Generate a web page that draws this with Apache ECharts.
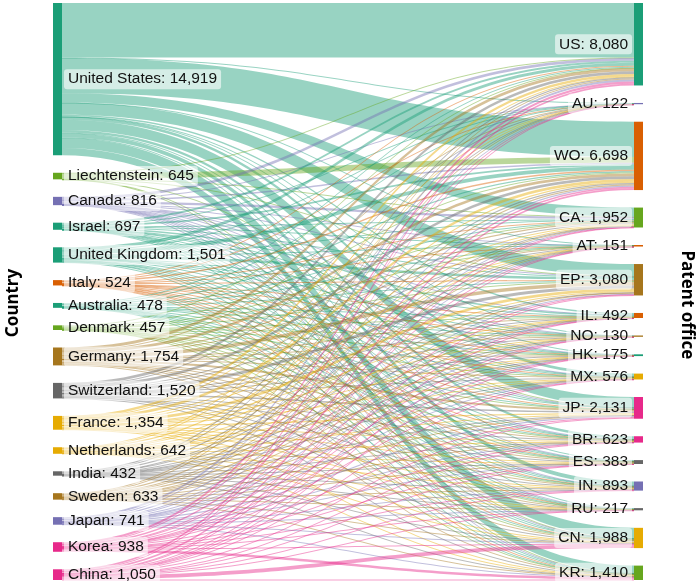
<!DOCTYPE html>
<html><head><meta charset="utf-8">
<script src="https://cdn.jsdelivr.net/npm/echarts/dist/echarts.min.js"></script>
<style>html,body{margin:0;padding:0;background:#fff}#c{width:700px;height:586px}</style>
</head><body><div id="c"></div>
<script>
// Source countries (left column), in display order
const countries = ['United States','Liechtenstein','Canada','Israel','United Kingdom','Italy','Australia','Denmark','Germany','Switzerland','France','Netherlands','India','Sweden','Japan','Korea','China'];
const countryTotals = [14919,645,816,697,1501,524,478,457,1754,1520,1354,642,432,633,741,938,1050];

// Patent offices (right column), in display order
const offices = ['US','AU','WO','CA','AT','EP','IL','NO','HK','MX','JP','BR','ES','IN','RU','CN','KR'];
const officeTotals = [8080,122,6698,1952,151,3080,492,130,175,576,2131,623,383,893,217,1988,1410];

// Estimated flows: one array per country, values per office (same order as offices)
const fromUnitedStates  = [5350,45,3450,900,25,1174,150,25,55,260,1000,260,75,380,70,1000,700];
const fromLiechtenstein = [30,0,560,5,0,20,0,0,0,0,10,0,0,0,0,10,10];
const fromCanada        = [270,5,170,230,2,50,5,2,3,10,15,8,3,10,3,20,10];
const fromIsrael        = [200,5,150,30,3,60,150,2,3,10,20,8,4,12,5,25,10];
const fromUnitedKingdom = [300,10,380,100,10,250,40,8,10,25,100,35,30,60,12,70,61];
const fromItaly         = [85,1,138,50,4,71,20,3,9,23,31,12,23,15,14,13,12];
const fromAustralia     = [100,25,120,50,3,50,13,3,10,15,25,13,5,10,4,20,12];
const fromDenmark       = [70,0,100,40,5,80,10,16,3,15,35,15,14,16,5,20,13];
const fromGermany       = [290,5,280,120,40,360,20,15,8,50,180,65,60,70,25,100,66];
const fromSwitzerland   = [270,5,270,120,20,280,30,10,15,40,160,50,40,60,20,80,50];
const fromFrance        = [230,5,270,90,15,260,15,8,8,35,120,55,60,50,15,60,58];
const fromNetherlands   = [90,3,120,55,8,105,18,10,5,15,70,20,25,25,8,35,30];
const fromIndia         = [120,3,130,20,3,40,3,2,3,10,15,10,5,40,5,15,8];
const fromSweden        = [95,3,110,50,6,100,8,20,5,20,60,25,20,30,10,40,31];
const fromJapan         = [190,3,130,50,3,70,5,2,10,15,110,13,10,35,5,50,40];
const fromKorea         = [210,2,150,25,2,60,3,2,3,15,90,16,5,40,5,50,260];
const fromChina         = [180,2,170,17,2,50,2,2,25,18,90,18,4,40,11,380,39];

const flows = [fromUnitedStates,fromLiechtenstein,fromCanada,fromIsrael,fromUnitedKingdom,fromItaly,fromAustralia,fromDenmark,fromGermany,fromSwitzerland,fromFrance,fromNetherlands,fromIndia,fromSweden,fromJapan,fromKorea,fromChina];

// Styles (Dark2 palette)
const C = {teal:'#1b9e77',orange:'#d95f02',purple:'#7570b3',pink:'#e7298a',green:'#66a61e',yellow:'#e6ab02',brown:'#a6761d',gray:'#666666'};
const countryColors = [C.teal,C.green,C.purple,C.teal,C.teal,C.orange,C.teal,C.green,C.brown,C.gray,C.yellow,C.yellow,C.gray,C.brown,C.purple,C.pink,C.pink];
const officeColors = [C.teal,C.purple,C.orange,C.green,C.orange,C.brown,C.orange,C.brown,C.teal,C.yellow,C.pink,C.pink,C.gray,C.purple,C.gray,C.yellow,C.green];

const fmt = v => v.toLocaleString('en-US');
const nodes = [];
countries.forEach((n,i)=>nodes.push({name:n,value:countryTotals[i],itemStyle:{color:countryColors[i]},label:{position:'right'}}));
offices.forEach((n,i)=>nodes.push({name:n,value:officeTotals[i],itemStyle:{color:officeColors[i]},label:{position:'left'}}));
const links = [];
flows.forEach((row,i)=>row.forEach((v,j)=>{ if(v>0) links.push({source:countries[i],target:offices[j],value:v}); }));

const chart = echarts.init(document.getElementById('c'), null, {renderer:'canvas'});
chart.setOption({
  animation:false,
  series:[{
    type:'sankey',
    left:53, right:57, top:3, bottom:6,
    nodeWidth:9, nodeGap:17.5,
    layoutIterations:0,
    draggable:false,
    emphasis:{disabled:true},
    data:nodes, links:links,
    lineStyle:{color:'source', opacity:0.45, curveness:0.5},
    label:{
      show:true, distance:2,
      fontFamily:'"Liberation Sans", Arial, sans-serif', fontSize:15.5, color:'#111',
      backgroundColor:'rgba(255,255,255,0.6)', borderRadius:3, padding:[2,4],
      formatter:p=>p.name+': '+fmt(p.value)
    }
  }],
  graphic:[
    {type:'text', x:13.5, y:303, rotation:Math.PI/2,
     style:{text:'Country', font:'bold 17px "Noto Sans", sans-serif', fill:'#000', textAlign:'center', textVerticalAlign:'middle'}},
    {type:'text', x:687, y:305, rotation:-Math.PI/2,
     style:{text:'Patent office', font:'bold 17px "Noto Sans", sans-serif', fill:'#000', textAlign:'center', textVerticalAlign:'middle'}}
  ]
});
</script></body></html>
